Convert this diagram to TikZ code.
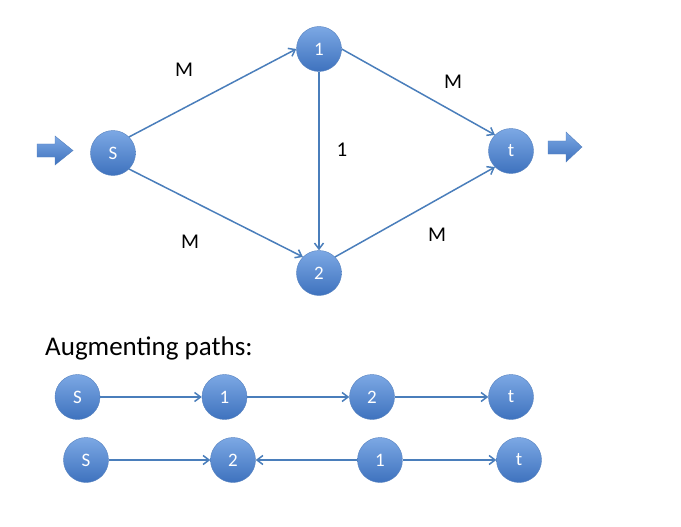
\documentclass[tikz,border=0pt]{standalone}
\usepackage{fontspec}
\setmainfont{Carlito}
\usetikzlibrary{arrows.meta}
\definecolor{nodetop}{RGB}{124,168,228}
\definecolor{nodebot}{RGB}{62,114,190}
\definecolor{nodeedge}{RGB}{84,128,190}
\definecolor{edgec}{RGB}{74,126,187}
\tikzset{
  vert/.style={circle, minimum size=45pt, inner sep=0pt, top color=nodetop, bottom color=nodebot,
    draw=nodeedge, line width=0.4pt, text=white, font=\fontsize{19}{19}\selectfont},
  conn/.style={draw=edgec, line width=1.5pt, -{Straight Barb[length=6pt,width=9pt]}},
  cap lbl/.style={font=\fontsize{21}{21}\selectfont, text=black, inner sep=0pt},
  blockarrow/.style={top color=nodetop, bottom color=nodebot, draw=nodeedge, line width=0.4pt}
}
\begin{document}
\begin{tikzpicture}[x=1pt,y=-1pt]
\useasboundingbox (0,0) rectangle (681,527);
% top network
\node[vert] (s) at (113,153) {S};
\node[vert] (n1) at (319,49) {1};
\node[vert] (n2) at (319,273) {2};
\node[vert] (t) at (511,151) {t};
\draw[conn] (s.45) -- (n1.west);
\draw[conn] (s.-45) -- (n2.135);
\draw[conn] (n1.south) -- (n2.north);
\draw[conn] (n1.east) -- (t.135);
\draw[conn] (n2.45) -- (t.-135);
\node[cap lbl] (m1) at (184,70) {M};
\node[cap lbl] (m2) at (453,82) {M};
\node[cap lbl] (c1) at (342,150) {1};
\node[cap lbl] (m3) at (190,242) {M};
\node[cap lbl] (m4) at (437,235) {M};
% block arrows
\shade[blockarrow] (37,144) -- (55,144) -- (55,136) -- (73,150.5) -- (55,165) -- (55,157) -- (37,157) -- cycle;
\shade[blockarrow] (548,141) -- (566,141) -- (566,132) -- (582,147) -- (566,162) -- (566,154) -- (548,154) -- cycle;
% augmenting paths
\node[anchor=base west, inner sep=0pt, font=\fontsize{27}{27}\selectfont] (title) at (45,355) {Augmenting paths:};
\node[vert] (a1) at (77.5,397) {S};
\node[vert] (a2) at (224.5,397) {1};
\node[vert] (a3) at (372,397) {2};
\node[vert] (a4) at (511,397) {t};
\draw[conn] (a1.east) -- (a2.west);
\draw[conn] (a2.east) -- (a3.west);
\draw[conn] (a3.east) -- (a4.west);
\node[vert] (b1) at (86,460) {S};
\node[vert] (b2) at (233,460) {2};
\node[vert] (b3) at (380,460) {1};
\node[vert] (b4) at (519,460) {t};
\draw[conn] (b1.east) -- (b2.west);
\draw[conn] (b3.west) -- (b2.east);
\draw[conn] (b3.east) -- (b4.west);
\end{tikzpicture}
\end{document}
